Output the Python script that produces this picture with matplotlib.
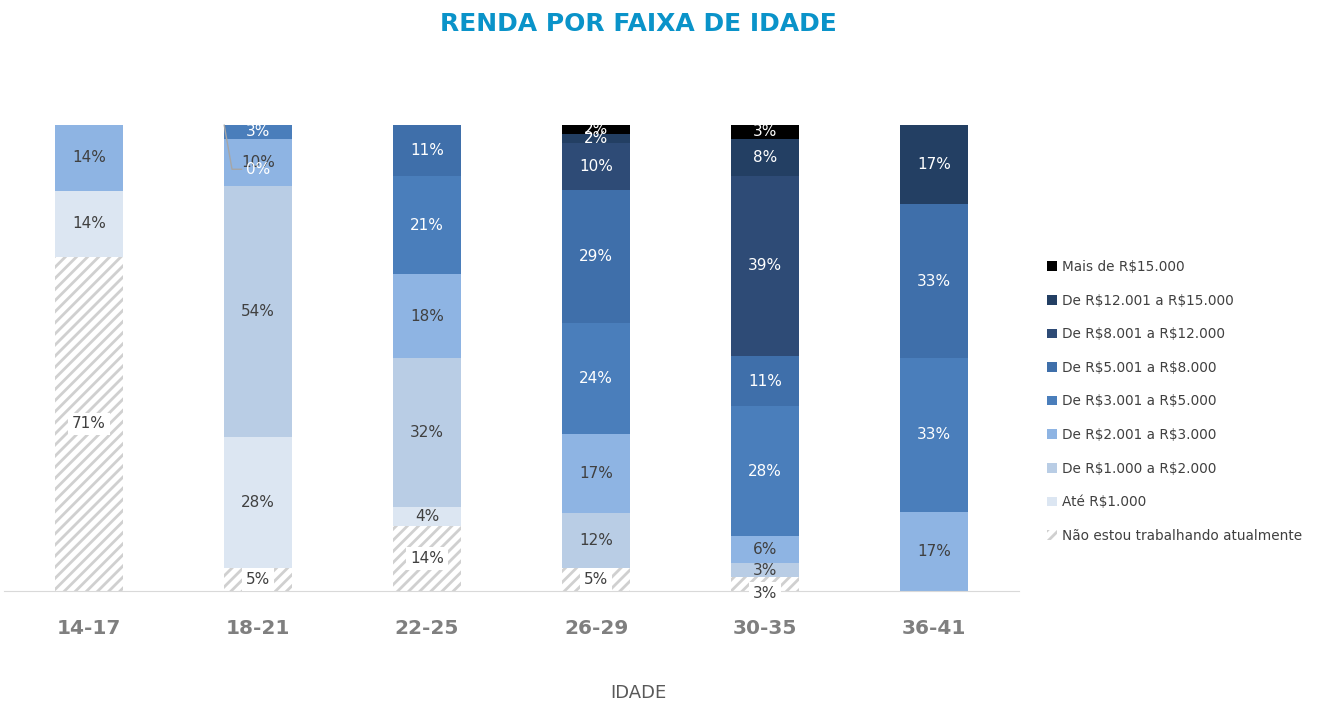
import matplotlib
matplotlib.use("Agg")
import matplotlib.pyplot as plt
import numpy as np

# ── Colours ────────────────────────────────────────────────────────────────
TITLE_BLUE = "#0a93c9"
AXIS_GREY  = "#7f7f7f"
TEXT_DARK  = "#404040"
HATCH_GREY = "#d0d0d0"

plt.rcParams.update({
    "font.family": "DejaVu Sans",
    "hatch.linewidth": 2.0,
    "hatch.color": HATCH_GREY,
})

# ── Data (percent of each age group) ───────────────────────────────────────
ages = ["14-17", "18-21", "22-25", "26-29", "30-35", "36-41"]

categories = [
    "Não estou trabalhando atualmente",
    "Até R\\$1.000",
    "De R\\$1.000 a R\\$2.000",
    "De R\\$2.001 a R\\$3.000",
    "De R\\$3.001 a R\\$5.000",
    "De R\\$5.001 a R\\$8.000",
    "De R\\$8.001 a R\\$12.000",
    "De R\\$12.001 a R\\$15.000",
    "Mais de R\\$15.000",
]

nao_trabalha = [71, 5, 14, 5, 3, 0]
ate_1000     = [14, 28, 4, 0, 0, 0]
r1000_2000   = [0, 54, 32, 12, 3, 0]
r2001_3000   = [14, 10, 18, 17, 6, 17]
r3001_5000   = [0, 3, 21, 24, 28, 33]
r5001_8000   = [0, 0, 11, 29, 11, 33]
r8001_12000  = [0, 0, 0, 10, 39, 0]
r12001_15000 = [0, 0, 0, 2, 8, 17]
mais_15000   = [0, 0, 0, 2, 3, 0]

series = [nao_trabalha, ate_1000, r1000_2000, r2001_3000, r3001_5000,
          r5001_8000, r8001_12000, r12001_15000, mais_15000]

colors = ["white", "#dce6f2", "#b9cde5", "#8eb4e3", "#4a7ebb",
          "#3f6faa", "#2e4b76", "#233f63", "#000000"]
label_colors = [TEXT_DARK, TEXT_DARK, TEXT_DARK, TEXT_DARK, "white",
                "white", "white", "white", "white"]

# 100% stacked: scale every column to its own total
data = np.array(series, dtype=float)
shares = data / data.sum(axis=0) * 100

# ── Figure ─────────────────────────────────────────────────────────────────
fig = plt.figure(figsize=(13.17, 7.13), dpi=100)
ax = fig.add_axes([0.0034, 0.1711, 0.770, 0.6536])

x = np.arange(len(ages))
width = 0.4
bottom = np.zeros(len(ages))
handles = []
for i, (cat, vals) in enumerate(zip(categories, shares)):
    if i == 0:
        bars = ax.bar(x, vals, width, bottom=bottom, color="white",
                      hatch="///", linewidth=0, label=cat)
    else:
        bars = ax.bar(x, vals, width, bottom=bottom, color=colors[i],
                      linewidth=0, label=cat)
    handles.append(bars)
    for j, (b, raw) in enumerate(zip(bars, series[i])):
        if raw == 0:
            continue
        cy = bottom[j] + vals[j] / 2
        if i == 0:
            if vals[j] < 4:
                cy = bottom[j] - 0.5
            ax.text(x[j], cy, f"{raw}%", ha="center", va="center",
                    fontsize=11, color=TEXT_DARK,
                    bbox=dict(boxstyle="square,pad=0.25", facecolor="white",
                              edgecolor="none"))
        else:
            ax.text(x[j], cy, f"{raw}%", ha="center", va="center",
                    fontsize=11, color=label_colors[i])
    bottom += vals

# zero-share label for 18-21 pulled out with a leader line
ax.annotate("0%", xy=(x[1] - width / 2, 100), xytext=(x[1], 90.5),
            ha="center", va="center", fontsize=11, color="white",
            arrowprops=dict(arrowstyle="-", color="#a6a6a6", lw=1,
                            shrinkA=1, shrinkB=0,
                            connectionstyle="angle,angleA=0,angleB=100,rad=0"))

ax.set_xlim(-0.5, len(ages) - 0.5)
ax.set_ylim(0, 100)
ax.set_xticks(x)
ax.set_xticklabels(ages, fontsize=14.5, fontweight="bold", color=AXIS_GREY)
ax.tick_params(axis="x", length=0, pad=20)
ax.set_yticks([])
for side in ["top", "right", "left"]:
    ax.spines[side].set_visible(False)
ax.spines["bottom"].set_color("#d9d9d9")

fig.text(0.485, 0.015, "IDADE", ha="center", va="bottom",
         fontsize=13, color="#595959")
fig.text(0.485, 0.966, "RENDA POR FAIXA DE IDADE", ha="center", va="center",
         fontsize=18, fontweight="bold", color=TITLE_BLUE)

leg = fig.legend(handles[::-1], categories[::-1], loc="upper left",
                 bbox_to_anchor=(0.791, 0.643), frameon=False,
                 fontsize=9.8, labelspacing=1.44, handlelength=0.7,
                 handleheight=0.7, handletextpad=0.4, borderaxespad=0)
for t in leg.get_texts():
    t.set_color(TEXT_DARK)

fig.savefig("out.png", dpi=100, facecolor="white")
